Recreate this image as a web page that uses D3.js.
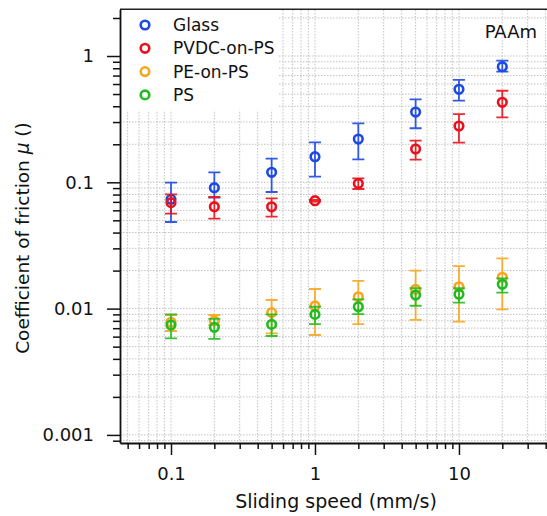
<!DOCTYPE html>
<html>
<head>
<meta charset="utf-8">
<script src="https://cdn.jsdelivr.net/npm/d3@7"></script>
<style>
  body { margin: 0; background: #fff; }
  text { font-family: "DejaVu Sans", sans-serif; fill: #111; }
</style>
</head>
<body>
<script>
const width = 547, height = 516

// sliding speeds (mm/s)
const speeds = [0.1, 0.2, 0.5, 1, 2, 5, 10, 20]

// friction coefficient: value, lower, upper
const glassMu = [0.0733, 0.0906, 0.120, 0.1595, 0.220, 0.360, 0.545, 0.823]
const glassLo = [0.0485, 0.0755, 0.0838, 0.111, 0.152, 0.268, 0.443, 0.751]
const glassHi = [0.0993, 0.120, 0.154, 0.207, 0.293, 0.454, 0.646, 0.918]

const pvdcMu = [0.069, 0.0641, 0.064, 0.0715, 0.098, 0.1835, 0.279, 0.43]
const pvdcLo = [0.0564, 0.0515, 0.0534, 0.0705, 0.0885, 0.151, 0.206, 0.327]
const pvdcHi = [0.0804, 0.0765, 0.0747, 0.0725, 0.1076, 0.2135, 0.347, 0.531]

const peMu = [0.0078, 0.0080, 0.0093, 0.0105, 0.0124, 0.0142, 0.0149, 0.0177]
const peLo = [0.00665, 0.0074, 0.00637, 0.00618, 0.00755, 0.00813, 0.00788, 0.00987]
const peHi = [0.0089, 0.0089, 0.0117, 0.0143, 0.0166, 0.0200, 0.0217, 0.025]

const psMu = [0.00742, 0.00711, 0.0075, 0.0090, 0.01035, 0.0128, 0.0130, 0.01557]
const psLo = [0.00582, 0.00575, 0.00607, 0.00755, 0.00906, 0.01054, 0.01114, 0.01337]
const psHi = [0.00901, 0.00828, 0.0090, 0.01035, 0.01185, 0.0145, 0.0145, 0.01738]

const seriesNames = ['Glass', 'PVDC-on-PS', 'PE-on-PS', 'PS']
const seriesColors = ['#1c48e4', '#e8121c', '#f8a51e', '#21bb21']

const xTickLabels = ['0.1', '1', '10']
const yTickLabels = ['0.001', '0.01', '0.1', '1']

const series = [
  [glassMu, glassLo, glassHi],
  [pvdcMu, pvdcLo, pvdcHi],
  [peMu, peLo, peHi],
  [psMu, psLo, psHi]
].map((s, i) => ({
  name: seriesNames[i],
  color: seriesColors[i],
  points: speeds.map((v, j) => ({x: v, y: s[0][j], lo: s[1][j], hi: s[2][j]}))
}))

const x = d3.scaleLog().domain([0.04424, 50]).range([120, 559.6])
const y = d3.scaleLog().domain([0.000863, 2.343]).range([443, 9.3])

const svg = d3.select('body').append('svg')
    .attr('width', width)
    .attr('height', height)

// all decade multiples for ticks and grid
function logTicks(lo, hi) {
  let t = []
  for (let e = Math.floor(Math.log10(lo)); e <= Math.ceil(Math.log10(hi)); e++) {
    for (let m = 1; m < 10; m++) {
      const v = +(m * Math.pow(10, e)).toPrecision(3)
      if (v >= lo && v <= hi) t.push(v)
    }
  }
  return t
}
const xTicks = logTicks(0.04424, 50)
const yTicks = logTicks(0.000863, 2.343)
const isMajor = v => Math.abs(Math.log10(v) - Math.round(Math.log10(v))) < 1e-6

// grid
svg.append('g').selectAll('line').data(xTicks).enter().append('line')
    .attr('x1', d => x(d)).attr('x2', d => x(d))
    .attr('y1', 10).attr('y2', 443)
    .attr('stroke', '#c2c2c2').attr('stroke-width', 1)
    .attr('stroke-dasharray', '1.5,1.5')
svg.append('g').selectAll('line').data(yTicks).enter().append('line')
    .attr('x1', 120).attr('x2', width)
    .attr('y1', d => y(d)).attr('y2', d => y(d))
    .attr('stroke', '#c2c2c2').attr('stroke-width', 1)
    .attr('stroke-dasharray', '1.5,1.5')

// legend background
svg.append('rect')
    .attr('x', 121).attr('y', 10)
    .attr('width', 157).attr('height', 100)
    .attr('fill', '#fff')

// frame
svg.append('line')
    .attr('x1', 120).attr('x2', width)
    .attr('y1', 9.3).attr('y2', 9.3)
    .attr('stroke', '#222').attr('stroke-width', 1.6)

// axes
const xAxis = svg.append('g')
    .attr('transform', 'translate(0,443)')
    .call(d3.axisBottom(x).tickValues(xTicks).tickSize(12).tickSizeOuter(0)
      .tickFormat(d => xTickLabels.includes(String(d)) ? String(d) : ''))
xAxis.select('.domain').attr('stroke', '#111').attr('stroke-width', 1.8)
xAxis.selectAll('.tick line').attr('stroke', '#111').attr('stroke-width', 1.5)
    .attr('y2', d => isMajor(d) ? 12 : 6)
xAxis.selectAll('.tick text').attr('font-size', 18).attr('y', 24)
    .attr('font-family', '"DejaVu Sans", sans-serif').attr('fill', '#111')

const yAxis = svg.append('g')
    .attr('transform', 'translate(120,0)')
    .call(d3.axisLeft(y).tickValues(yTicks).tickSize(13).tickSizeOuter(0)
      .tickFormat(d => yTickLabels.includes(String(d)) ? String(d) : ''))
yAxis.select('.domain').attr('stroke', '#111').attr('stroke-width', 1.8)
yAxis.selectAll('.tick line').attr('stroke', '#111').attr('stroke-width', 1.5)
    .attr('x2', d => isMajor(d) ? -13 : -7)
yAxis.selectAll('.tick text').attr('font-size', 18).attr('x', -26)
    .attr('font-family', '"DejaVu Sans", sans-serif').attr('fill', '#111')

// axis titles
svg.append('text')
    .attr('x', 336).attr('y', 508)
    .attr('text-anchor', 'middle')
    .attr('font-size', 19)
    .text('Sliding speed (mm/s)')

const yt = svg.append('text')
    .attr('transform', 'translate(29,238) rotate(-90)')
    .attr('text-anchor', 'middle')
    .attr('font-size', 18.5)
yt.append('tspan').text('Coefficient of friction ')
yt.append('tspan').attr('font-style', 'italic').text('μ')
yt.append('tspan').text(' ()')

// data
series.forEach(s => {
  const g = svg.append('g')
  const cap = 6
  g.selectAll('.bar').data(s.points).enter().append('path')
      .attr('d', d => {
        const cx = x(d.x), y1 = y(d.hi), y2 = y(d.lo)
        return 'M' + (cx - cap) + ',' + y1 + 'H' + (cx + cap) +
               'M' + cx + ',' + y1 + 'V' + y2 +
               'M' + (cx - cap) + ',' + y2 + 'H' + (cx + cap)
      })
      .attr('stroke', s.color).attr('stroke-width', 1.8).attr('fill', 'none')
      .attr('opacity', 0.9)
  g.selectAll('.dot').data(s.points).enter().append('circle')
      .attr('cx', d => x(d.x))
      .attr('cy', d => y(d.y))
      .attr('r', 4.3)
      .attr('fill', 'none')
      .attr('stroke', s.color)
      .attr('stroke-width', 2.6)
})

// legend
const leg = svg.append('g')
series.forEach((s, i) => {
  const ly = 25 + i * 23.3
  leg.append('circle')
      .attr('cx', 145).attr('cy', ly).attr('r', 4.3)
      .attr('fill', 'none').attr('stroke', s.color).attr('stroke-width', 2.6)
  leg.append('text')
      .attr('x', 173).attr('y', ly + 6)
      .attr('font-size', 17)
      .text(s.name)
})

svg.append('text')
    .attr('x', 537).attr('y', 38)
    .attr('text-anchor', 'end')
    .attr('font-size', 18)
    .text('PAAm')
</script>
</body>
</html>
